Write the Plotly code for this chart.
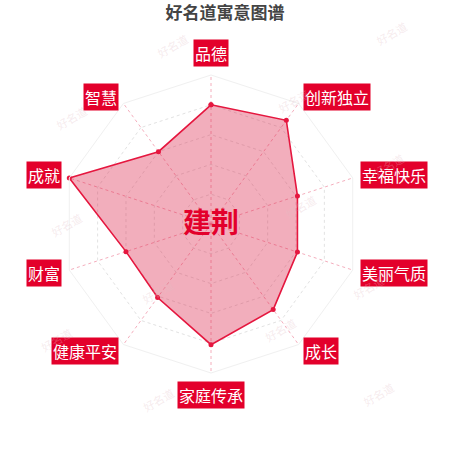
import math
import plotly.graph_objects as go

# 寓意图谱 data (0-100)
categories = ["品德", "创新独立", "幸福快乐", "美丽气质", "成长",
              "家庭传承", "健康平安", "财富", "成就", "智慧"]
scores = [80, 86, 61, 61, 71, 81, 61, 60, 100, 60]
name = "建荆"
title = "好名道寓意图谱"

W, H = 450, 450
cx, cy, R = 211, 224, 149   # polar centre / radius in px
RED = "#e3002b"
FONT = "Noto Sans CJK SC"

fig = go.Figure()

fig.add_trace(go.Scatterpolar(
    r=scores + scores[:1],
    theta=categories + categories[:1],
    mode="lines+markers",
    fill="toself",
    fillcolor="rgba(220,30,70,0.36)",
    line=dict(color="#e5173f", width=1.6),
    marker=dict(color="#e5173f", size=5),
    hoverinfo="skip",
    showlegend=False,
))

fig.update_layout(
    width=W, height=H,
    margin=dict(l=0, r=0, t=0, b=0),
    paper_bgcolor="white",
    plot_bgcolor="white",
    font=dict(family=FONT),
    title=dict(text="<b>" + title + "</b>", x=0.5, xanchor="center",
               y=1 - 13 / H, yanchor="middle",
               font=dict(size=17, color="#444444", family=FONT)),
    polar=dict(
        domain=dict(x=[(cx - R) / W, (cx + R) / W],
                    y=[1 - (cy + R) / H, 1 - (cy - R) / H]),
        bgcolor="rgba(0,0,0,0)",
        gridshape="linear",
        radialaxis=dict(range=[0, 100], dtick=20, showticklabels=False,
                        ticks="", showline=False,
                        gridcolor="#e2e2e2", griddash="dot", gridwidth=1),
        angularaxis=dict(direction="clockwise", rotation=90,
                         showticklabels=False, ticks="",
                         showline=True, linecolor="#f0f0f0", linewidth=1,
                         gridcolor="rgba(236,120,145,0.6)", griddash="dot",
                         gridwidth=1),
    ),
)

# category labels in red boxes, placed just beyond the axis ends
n = len(categories)
gap = 8
for i, cat in enumerate(categories):
    a = math.radians(360 * i / n)
    px = cx + (R + gap) * math.sin(a)
    py = cy - (R + gap) * math.cos(a)
    s = math.sin(a)
    if abs(s) < 1e-6:
        xa = "center"
        ya = "bottom" if math.cos(a) > 0 else "top"
    else:
        xa = "left" if s > 0 else "right"
        ya = "middle"
    fig.add_annotation(
        x=px / W, y=1 - py / H, xref="paper", yref="paper",
        text=cat, showarrow=False, xanchor=xa, yanchor=ya,
        font=dict(size=16, color="white", family=FONT),
        bgcolor=RED, borderpad=1,
    )

# name in the middle
fig.add_annotation(
    x=cx / W, y=1 - 221 / H, xref="paper", yref="paper",
    text="<b>" + name + "</b>", showarrow=False,
    font=dict(size=28, color=RED, family=FONT),
)

# faint watermarks
marks = [(172, 28), (413, 15), (293, 83), (50, 100), (410, 147),
         (45, 225), (300, 207), (390, 287), (157, 292), (35, 358),
         (280, 348), (158, 418), (400, 412)]
for mx, my in marks:
    fig.add_annotation(
        x=mx / W, y=1 - my / H, xref="paper", yref="paper",
        text="好名道", showarrow=False, textangle=-30,
        font=dict(size=11, color="rgba(225,190,196,0.3)", family=FONT),
    )

fig.write_html("out.html", config={"displayModeBar": False},
               post_script="document.body.style.margin='0';")
